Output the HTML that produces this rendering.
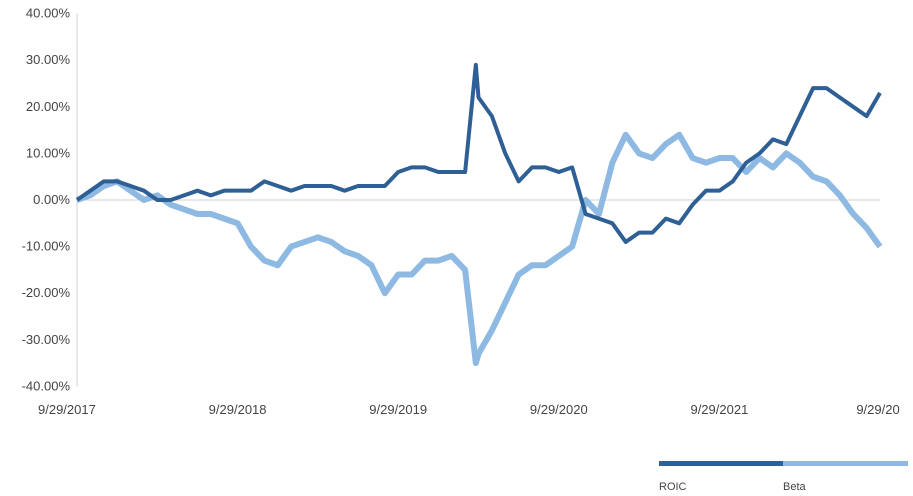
<!DOCTYPE html>
<html><head><meta charset="utf-8">
<style>
body{margin:0;background:#fff;width:913px;height:496px;overflow:hidden;font-family:"Liberation Sans",sans-serif;}
svg{display:block}
text{font-family:"Liberation Sans",sans-serif;font-size:13px;fill:#444}
</style></head>
<body>
<svg id="chart" width="913" height="496" viewBox="0 0 913 496"></svg>
<script>
const xTickLabels = ["9/29/2017","9/29/2018","9/29/2019","9/29/2020","9/29/2021","9/29/20"];
const yTickValues = [40,30,20,10,0,-10,-20,-30,-40];
const roicValues = [0,2,4,4,3,2,0,0,1,2,1,2,2,2,4,3,2,3,3,3,2,3,3,3,6,7,7,6,6,6,22,18,10,4,7,7,6,7,-3,-4,-5,-9,-7,-7,-4,-5,-1,2,2,4,8,10,13,12,18,24,24,22,20,18,23];
const betaValues = [0,1,3,4,2,0,1,-1,-2,-3,-3,-4,-5,-10,-13,-14,-10,-9,-8,-9,-11,-12,-14,-20,-16,-16,-13,-13,-12,-15,-33,-28,-22,-16,-14,-14,-12,-10,0,-3,8,14,10,9,12,14,9,8,9,9,6,9,7,10,8,5,4,1,-3,-6,-10];
const spikeROIC = {m:29.8, v:29};
const spikeBeta = {m:29.8, v:-35};

const NS="http://www.w3.org/2000/svg";
const svg=document.getElementById('chart');
const x0=77,x1=880,y0=200,pxPer=4.66;
const xs=m=>x0+m*(x1-x0)/60;
const ys=v=>y0-v*pxPer;
function mk(t,a){const e=document.createElementNS(NS,t);for(const k in a)e.setAttribute(k,a[k]);svg.appendChild(e);return e;}

yTickValues.forEach(v=>{
  const t=mk('text',{x:70,y:ys(v)+4,'text-anchor':'end'});
  
  
  t.textContent=v.toFixed(2)+'%';
});
const ax=mk('line',{x1:x0,y1:ys(40),x2:x0,y2:ys(-40),stroke:'#d0d0d0','stroke-width':1});


const zl=mk('line',{x1:x0,y1:y0,x2:x1,y2:y0,stroke:'#d0d0d0','stroke-width':1});


xTickLabels.forEach((l,i)=>{
  const t=mk('text',{x:xs(i*12),y:414,'text-anchor':i===0?'start':'middle'});
  if(i===0)t.setAttribute('x',38);
  if(i===5)t.setAttribute('x',878);
  
  
  t.textContent=l;
});
function series(vals,spike,color,w,name){
  const pts=vals.map((v,i)=>[xs(i),ys(v)]);
  const si=Math.floor(spike.m);
  pts.splice(si+1,0,[xs(spike.m),ys(spike.v)]);
  const p=mk('polyline',{points:pts.map(p=>p.join(',')).join(' '),fill:'none',stroke:color,'stroke-width':w,'stroke-linejoin':'round'});
  
  
}
series(betaValues,spikeBeta,'#8db9e2',6,'beta-line');
series(roicValues,spikeROIC,'#2e5f95',4,'roic-line');

const l1=mk('rect',{x:659,y:461,width:124,height:5,fill:'#2e5f95'});


const l2=mk('rect',{x:783,y:461,width:125,height:5,fill:'#8db9e2'});


const t1=mk('text',{x:659,y:490});t1.style.fontSize='11px';t1.textContent='ROIC';


const t2=mk('text',{x:783,y:490});t2.style.fontSize='11px';t2.textContent='Beta';


</script>
</body></html>
